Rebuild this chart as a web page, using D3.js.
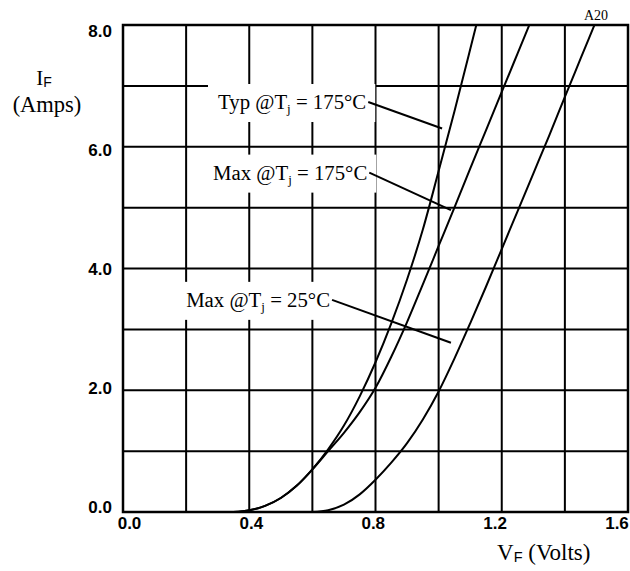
<!DOCTYPE html>
<html>
<head>
<meta charset="utf-8">
<script src="https://cdn.jsdelivr.net/npm/d3@7/dist/d3.min.js"></script>
<style>
  html, body { margin: 0; padding: 0; background: #fff; }
  svg { display: block; }
</style>
</head>
<body>
<svg id="chart" width="630" height="571"></svg>
<script>
// ---- Data ----
const xTicks = [0.0, 0.4, 0.8, 1.2, 1.6];
const yTicks = [0.0, 2.0, 4.0, 6.0, 8.0];
const xGrid = [0, 0.2, 0.4, 0.6, 0.8, 1.0, 1.2, 1.4, 1.6];
const yGrid = [0, 1, 2, 3, 4, 5, 6, 7, 8];

// Typ @ Tj = 175°C  [V, A]
const typ175 = [[0.35,0],[0.40,0.03],[0.45,0.10],[0.50,0.23],[0.55,0.43],[0.60,0.70],[0.65,1.03],[0.70,1.42],[0.75,1.90],[0.80,2.46],[0.85,3.10],[0.90,3.82],[0.95,4.64],[1.00,5.60],[1.05,6.58],[1.10,7.60],[1.13,8.22]];
// Max @ Tj = 175°C
const max175 = [[0.35,0],[0.40,0.03],[0.45,0.10],[0.50,0.23],[0.55,0.43],[0.60,0.70],[0.65,1.00],[0.70,1.30],[0.75,1.64],[0.80,2.04],[0.85,2.55],[0.90,3.12],[0.95,3.74],[1.00,4.37],[1.05,5.00],[1.10,5.64],[1.15,6.27],[1.20,6.90],[1.25,7.53],[1.30,8.16]];
// Max @ Tj = 25°C
const max25 = [[0.60,0],[0.65,0.03],[0.70,0.12],[0.75,0.29],[0.80,0.53],[0.85,0.81],[0.90,1.13],[0.95,1.52],[1.00,1.98],[1.05,2.52],[1.10,3.10],[1.15,3.70],[1.20,4.32],[1.25,4.94],[1.30,5.56],[1.35,6.18],[1.40,6.82],[1.45,7.45],[1.50,8.08]];

const seriesList = [typ175, max175, max25];

// annotation labels: text pieces, text anchor point (data), leader line end (data)
const labelNames = ["Typ @T", "Max @T", "Max @T"];
const labelTemps = [" = 175°C", " = 175°C", " = 25°C"];
const labelAt = [[0.301, 6.62], [0.285, 5.46], [0.200, 3.37]];
const leaderTo = [[1.011, 6.30], [1.039, 4.96], [1.039, 2.78]];

// ---- Layout ----
const svg = d3.select("#chart");
const pL = 123, pR = 628, pT = 25, pB = 512;
const x = d3.scaleLinear().domain([0, 1.6]).range([pL, pR]);
const y = d3.scaleLinear().domain([0, 8]).range([pB, pT]);
// tick labels sit slightly inside the frame in the original
const xLab = d3.scaleLinear().domain([0, 1.6]).range([129.5, 617]);
const yLab = d3.scaleLinear().domain([0, 8]).range([507, 31]);

const g = svg.append("g");

// grid
g.selectAll("line.vg").data(xGrid).join("line")
  .attr("class", "vg")
  .attr("x1", d => x(d)).attr("x2", d => x(d))
  .attr("y1", pT).attr("y2", pB)
  .attr("stroke", "#000").attr("stroke-width", 2);
g.selectAll("line.hg").data(yGrid).join("line")
  .attr("class", "hg")
  .attr("x1", pL).attr("x2", pR)
  .attr("y1", d => y(d)).attr("y2", d => y(d))
  .attr("stroke", "#000").attr("stroke-width", 2);

// curves
svg.append("clipPath").attr("id", "plotclip")
  .append("rect").attr("x", pL).attr("y", pT).attr("width", pR - pL).attr("height", pB - pT);
const lineGen = d3.line().x(d => x(d[0])).y(d => y(d[1])).curve(d3.curveMonotoneX);
g.append("g").attr("clip-path", "url(#plotclip)")
  .selectAll("path").data(seriesList).join("path")
  .attr("d", lineGen).attr("fill", "none").attr("stroke", "#000").attr("stroke-width", 2);

// labels with white background
const serif = "'Liberation Serif', 'Times New Roman', serif";
const sans = "'Liberation Sans', Arial, sans-serif";
labelNames.forEach((nm, i) => {
  const lg = g.append("g");
  const bg = lg.append("rect").attr("fill", "#fff");
  const t = lg.append("text")
    .attr("x", x(labelAt[i][0])).attr("y", y(labelAt[i][1]))
    .attr("font-family", serif).attr("font-size", 20.8).attr("fill", "#000");
  t.append("tspan").text(nm);
  t.append("tspan").text("j").attr("font-size", 13).attr("dy", 4);
  t.append("tspan").text(labelTemps[i]).attr("dy", -4);
  const bb = t.node().getBBox();
  bg.attr("x", bb.x - 10).attr("y", bb.y - 6).attr("width", bb.width + 19).attr("height", bb.height + 12);
  lg.append("line")
    .attr("x1", bb.x + bb.width + 2).attr("y1", bb.y + bb.height / 2 - 1)
    .attr("x2", x(leaderTo[i][0])).attr("y2", y(leaderTo[i][1]))
    .attr("stroke", "#000").attr("stroke-width", 2);
});

// frame
g.append("rect").attr("x", pL).attr("y", pT).attr("width", pR - pL).attr("height", pB - pT)
  .attr("fill", "none").attr("stroke", "#000").attr("stroke-width", 2.5);

// tick labels
g.selectAll("text.xt").data(xTicks).join("text")
  .attr("class", "xt")
  .attr("x", d => xLab(d)).attr("y", 529)
  .attr("text-anchor", "middle")
  .attr("font-family", sans).attr("font-weight", "bold").attr("font-size", 17)
  .text(d => d.toFixed(1));
g.selectAll("text.yt").data(yTicks).join("text")
  .attr("class", "yt")
  .attr("x", 112).attr("y", d => yLab(d) + 6)
  .attr("text-anchor", "end")
  .attr("font-family", sans).attr("font-weight", "bold").attr("font-size", 17)
  .text(d => d.toFixed(1));

// axis titles
const ytl = g.append("text").attr("x", 44).attr("y", 85).attr("text-anchor", "middle")
  .attr("font-family", serif).attr("font-size", 21);
ytl.append("tspan").text("I");
ytl.append("tspan").text("F").attr("font-family", sans).attr("font-size", 14).attr("dy", 2);
g.append("text").attr("x", 47).attr("y", 112).attr("text-anchor", "middle")
  .attr("font-family", serif).attr("font-size", 22.5).text("(Amps)");

const xtl = g.append("text").attr("x", 497).attr("y", 560)
  .attr("font-family", serif).attr("font-size", 23);
xtl.append("tspan").text("V");
xtl.append("tspan").text("F").attr("font-family", sans).attr("font-size", 14.5).attr("dy", 2);
xtl.append("tspan").text(" (Volts)").attr("dy", -2);

// corner code
g.append("text").attr("x", 584).attr("y", 20)
  .attr("font-family", serif).attr("font-size", 14).text("A20");
</script>
</body>
</html>
